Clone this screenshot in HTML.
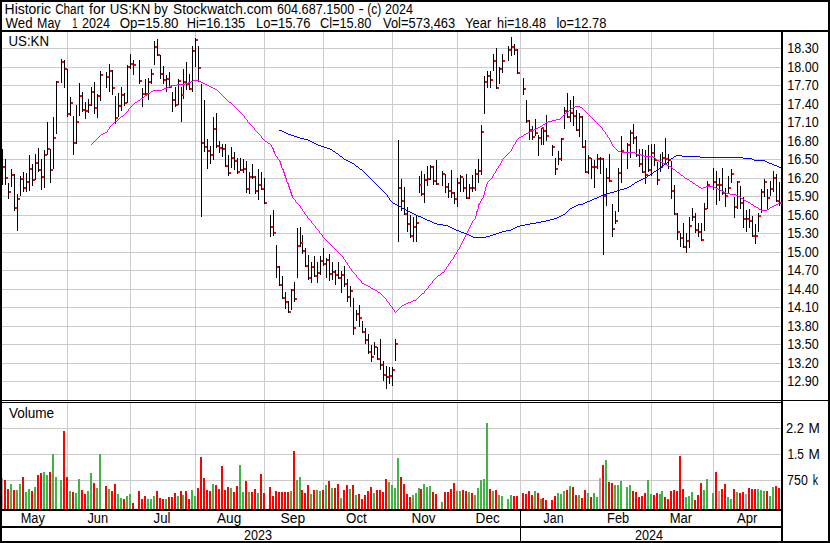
<!DOCTYPE html>
<html><head><meta charset="utf-8"><title>Historic Chart for US:KN</title>
<style>html,body{margin:0;padding:0;background:#fff}svg{display:block}text{font-family:"Liberation Sans",Arial,sans-serif;font-size:14px;fill:#000}</style>
</head><body>
<svg width="830" height="543" viewBox="0 0 830 543">
<rect x="0" y="0" width="830" height="543" fill="#fff"/>
<g fill="#cbcbcb" shape-rendering="crispEdges">
<rect x="2" y="48" width="779" height="1"/>
<rect x="2" y="67" width="779" height="1"/>
<rect x="2" y="85" width="779" height="1"/>
<rect x="2" y="104" width="779" height="1"/>
<rect x="2" y="122" width="779" height="1"/>
<rect x="2" y="141" width="779" height="1"/>
<rect x="2" y="159" width="779" height="1"/>
<rect x="2" y="178" width="779" height="1"/>
<rect x="2" y="196" width="779" height="1"/>
<rect x="2" y="215" width="779" height="1"/>
<rect x="2" y="233" width="779" height="1"/>
<rect x="2" y="252" width="779" height="1"/>
<rect x="2" y="270" width="779" height="1"/>
<rect x="2" y="289" width="779" height="1"/>
<rect x="2" y="307" width="779" height="1"/>
<rect x="2" y="326" width="779" height="1"/>
<rect x="2" y="344" width="779" height="1"/>
<rect x="2" y="363" width="779" height="1"/>
<rect x="2" y="381" width="779" height="1"/>
<rect x="2" y="428" width="779" height="1"/>
<rect x="2" y="454" width="779" height="1"/>
<rect x="2" y="480" width="779" height="1"/>
<rect x="67" y="32" width="1" height="368"/>
<rect x="67" y="403" width="1" height="106"/>
<rect x="130" y="32" width="1" height="368"/>
<rect x="130" y="403" width="1" height="106"/>
<rect x="195" y="32" width="1" height="368"/>
<rect x="195" y="403" width="1" height="106"/>
<rect x="264" y="32" width="1" height="368"/>
<rect x="264" y="403" width="1" height="106"/>
<rect x="323" y="32" width="1" height="368"/>
<rect x="323" y="403" width="1" height="106"/>
<rect x="392" y="32" width="1" height="368"/>
<rect x="392" y="403" width="1" height="106"/>
<rect x="457" y="32" width="1" height="368"/>
<rect x="457" y="403" width="1" height="106"/>
<rect x="520" y="32" width="1" height="368"/>
<rect x="520" y="403" width="1" height="106"/>
<rect x="588" y="32" width="1" height="368"/>
<rect x="588" y="403" width="1" height="106"/>
<rect x="651" y="32" width="1" height="368"/>
<rect x="651" y="403" width="1" height="106"/>
<rect x="713" y="32" width="1" height="368"/>
<rect x="713" y="403" width="1" height="106"/>
</g>
<g fill="#000" shape-rendering="crispEdges">
<rect x="0" y="0" width="830" height="2"/>
<rect x="0" y="541" width="830" height="2"/>
<rect x="0" y="0" width="2" height="543"/>
<rect x="828" y="0" width="2" height="543"/>
<rect x="0" y="30" width="830" height="2"/>
<rect x="781" y="30" width="2" height="512"/>
<rect x="2" y="400" width="826" height="1"/>
<rect x="2" y="402" width="779" height="1"/>
<rect x="2" y="509" width="779" height="2"/>
<rect x="2" y="526" width="779" height="2"/>
<rect x="520" y="511" width="1" height="30"/>
</g>
<g fill="#42b444" shape-rendering="crispEdges">
<rect x="10" y="484" width="2" height="25"/>
<rect x="16" y="490" width="2" height="19"/>
<rect x="19" y="484" width="2" height="25"/>
<rect x="25" y="492" width="2" height="17"/>
<rect x="28" y="489" width="2" height="20"/>
<rect x="34" y="487" width="2" height="22"/>
<rect x="43" y="472" width="2" height="37"/>
<rect x="46" y="475" width="2" height="34"/>
<rect x="52" y="454" width="2" height="55"/>
<rect x="55" y="477" width="2" height="32"/>
<rect x="60" y="480" width="2" height="29"/>
<rect x="69" y="491" width="2" height="18"/>
<rect x="75" y="493" width="2" height="16"/>
<rect x="78" y="479" width="2" height="30"/>
<rect x="87" y="491" width="2" height="18"/>
<rect x="90" y="473" width="2" height="36"/>
<rect x="96" y="488" width="2" height="21"/>
<rect x="99" y="454" width="2" height="55"/>
<rect x="108" y="489" width="2" height="20"/>
<rect x="117" y="494" width="2" height="15"/>
<rect x="120" y="498" width="2" height="11"/>
<rect x="126" y="496" width="2" height="13"/>
<rect x="129" y="494" width="2" height="15"/>
<rect x="147" y="499" width="2" height="10"/>
<rect x="150" y="499" width="2" height="10"/>
<rect x="153" y="496" width="2" height="13"/>
<rect x="165" y="499" width="2" height="10"/>
<rect x="177" y="496" width="2" height="13"/>
<rect x="182" y="495" width="2" height="14"/>
<rect x="191" y="490" width="2" height="19"/>
<rect x="194" y="496" width="2" height="13"/>
<rect x="212" y="484" width="2" height="25"/>
<rect x="230" y="488" width="2" height="21"/>
<rect x="239" y="465" width="2" height="44"/>
<rect x="242" y="492" width="2" height="17"/>
<rect x="248" y="492" width="2" height="17"/>
<rect x="257" y="493" width="2" height="16"/>
<rect x="290" y="491" width="2" height="18"/>
<rect x="296" y="480" width="2" height="29"/>
<rect x="299" y="477" width="2" height="32"/>
<rect x="310" y="494" width="2" height="15"/>
<rect x="316" y="490" width="2" height="19"/>
<rect x="319" y="491" width="2" height="18"/>
<rect x="325" y="485" width="2" height="24"/>
<rect x="331" y="488" width="2" height="21"/>
<rect x="340" y="498" width="2" height="11"/>
<rect x="349" y="489" width="2" height="20"/>
<rect x="355" y="495" width="2" height="14"/>
<rect x="373" y="493" width="2" height="16"/>
<rect x="388" y="482" width="2" height="27"/>
<rect x="391" y="485" width="2" height="24"/>
<rect x="394" y="488" width="2" height="21"/>
<rect x="397" y="458" width="2" height="51"/>
<rect x="412" y="495" width="2" height="14"/>
<rect x="415" y="493" width="2" height="16"/>
<rect x="418" y="488" width="2" height="21"/>
<rect x="423" y="484" width="2" height="25"/>
<rect x="426" y="487" width="2" height="22"/>
<rect x="429" y="486" width="2" height="23"/>
<rect x="441" y="502" width="2" height="7"/>
<rect x="456" y="491" width="2" height="18"/>
<rect x="459" y="491" width="2" height="18"/>
<rect x="468" y="492" width="2" height="17"/>
<rect x="474" y="495" width="2" height="14"/>
<rect x="477" y="488" width="2" height="21"/>
<rect x="480" y="480" width="2" height="29"/>
<rect x="483" y="479" width="2" height="30"/>
<rect x="486" y="423" width="2" height="86"/>
<rect x="492" y="491" width="2" height="18"/>
<rect x="498" y="495" width="2" height="14"/>
<rect x="501" y="496" width="2" height="13"/>
<rect x="507" y="499" width="2" height="10"/>
<rect x="510" y="495" width="2" height="14"/>
<rect x="534" y="491" width="2" height="18"/>
<rect x="540" y="499" width="2" height="10"/>
<rect x="557" y="493" width="2" height="16"/>
<rect x="560" y="494" width="2" height="15"/>
<rect x="563" y="491" width="2" height="18"/>
<rect x="569" y="486" width="2" height="23"/>
<rect x="578" y="495" width="2" height="14"/>
<rect x="587" y="493" width="2" height="16"/>
<rect x="593" y="493" width="2" height="16"/>
<rect x="596" y="497" width="2" height="12"/>
<rect x="605" y="460" width="2" height="49"/>
<rect x="614" y="485" width="2" height="24"/>
<rect x="617" y="485" width="2" height="24"/>
<rect x="620" y="481" width="2" height="28"/>
<rect x="626" y="487" width="2" height="22"/>
<rect x="629" y="485" width="2" height="24"/>
<rect x="647" y="480" width="2" height="29"/>
<rect x="650" y="494" width="2" height="15"/>
<rect x="659" y="494" width="2" height="15"/>
<rect x="661" y="491" width="2" height="18"/>
<rect x="685" y="497" width="2" height="12"/>
<rect x="688" y="496" width="2" height="13"/>
<rect x="691" y="492" width="2" height="17"/>
<rect x="703" y="490" width="2" height="19"/>
<rect x="706" y="479" width="2" height="30"/>
<rect x="712" y="493" width="2" height="16"/>
<rect x="727" y="497" width="2" height="12"/>
<rect x="730" y="499" width="2" height="10"/>
<rect x="736" y="492" width="2" height="17"/>
<rect x="757" y="489" width="2" height="20"/>
<rect x="760" y="490" width="2" height="19"/>
<rect x="763" y="491" width="2" height="18"/>
<rect x="769" y="496" width="2" height="13"/>
<rect x="772" y="487" width="2" height="22"/>
</g>
<g fill="#ff0000" shape-rendering="crispEdges">
<rect x="4" y="480" width="2" height="29"/>
<rect x="7" y="489" width="2" height="20"/>
<rect x="13" y="490" width="2" height="19"/>
<rect x="22" y="477" width="2" height="32"/>
<rect x="31" y="491" width="2" height="18"/>
<rect x="37" y="475" width="2" height="34"/>
<rect x="40" y="473" width="2" height="36"/>
<rect x="49" y="472" width="2" height="37"/>
<rect x="63" y="431" width="2" height="78"/>
<rect x="66" y="477" width="2" height="32"/>
<rect x="72" y="492" width="2" height="17"/>
<rect x="81" y="490" width="2" height="19"/>
<rect x="84" y="494" width="2" height="15"/>
<rect x="93" y="483" width="2" height="26"/>
<rect x="105" y="486" width="2" height="23"/>
<rect x="111" y="491" width="2" height="18"/>
<rect x="114" y="484" width="2" height="25"/>
<rect x="123" y="499" width="2" height="10"/>
<rect x="132" y="503" width="2" height="6"/>
<rect x="138" y="491" width="2" height="18"/>
<rect x="141" y="499" width="2" height="10"/>
<rect x="144" y="496" width="2" height="13"/>
<rect x="156" y="491" width="2" height="18"/>
<rect x="159" y="498" width="2" height="11"/>
<rect x="162" y="499" width="2" height="10"/>
<rect x="168" y="497" width="2" height="12"/>
<rect x="171" y="497" width="2" height="12"/>
<rect x="174" y="493" width="2" height="16"/>
<rect x="180" y="491" width="2" height="18"/>
<rect x="185" y="491" width="2" height="18"/>
<rect x="188" y="499" width="2" height="10"/>
<rect x="197" y="488" width="2" height="21"/>
<rect x="200" y="457" width="2" height="52"/>
<rect x="203" y="478" width="2" height="31"/>
<rect x="206" y="490" width="2" height="19"/>
<rect x="209" y="491" width="2" height="18"/>
<rect x="215" y="485" width="2" height="24"/>
<rect x="218" y="489" width="2" height="20"/>
<rect x="221" y="466" width="2" height="43"/>
<rect x="224" y="490" width="2" height="19"/>
<rect x="227" y="487" width="2" height="22"/>
<rect x="233" y="492" width="2" height="17"/>
<rect x="236" y="486" width="2" height="23"/>
<rect x="245" y="481" width="2" height="28"/>
<rect x="251" y="492" width="2" height="17"/>
<rect x="254" y="489" width="2" height="20"/>
<rect x="260" y="474" width="2" height="35"/>
<rect x="263" y="493" width="2" height="16"/>
<rect x="269" y="487" width="2" height="22"/>
<rect x="272" y="496" width="2" height="13"/>
<rect x="275" y="491" width="2" height="18"/>
<rect x="278" y="492" width="2" height="17"/>
<rect x="281" y="492" width="2" height="17"/>
<rect x="284" y="492" width="2" height="17"/>
<rect x="287" y="492" width="2" height="17"/>
<rect x="293" y="451" width="2" height="58"/>
<rect x="301" y="490" width="2" height="19"/>
<rect x="304" y="493" width="2" height="16"/>
<rect x="307" y="485" width="2" height="24"/>
<rect x="313" y="490" width="2" height="19"/>
<rect x="322" y="490" width="2" height="19"/>
<rect x="328" y="481" width="2" height="28"/>
<rect x="334" y="488" width="2" height="21"/>
<rect x="337" y="484" width="2" height="25"/>
<rect x="343" y="490" width="2" height="19"/>
<rect x="346" y="485" width="2" height="24"/>
<rect x="352" y="485" width="2" height="24"/>
<rect x="358" y="494" width="2" height="15"/>
<rect x="361" y="499" width="2" height="10"/>
<rect x="364" y="495" width="2" height="14"/>
<rect x="367" y="491" width="2" height="18"/>
<rect x="370" y="487" width="2" height="22"/>
<rect x="376" y="490" width="2" height="19"/>
<rect x="379" y="490" width="2" height="19"/>
<rect x="382" y="492" width="2" height="17"/>
<rect x="385" y="479" width="2" height="30"/>
<rect x="400" y="477" width="2" height="32"/>
<rect x="403" y="484" width="2" height="25"/>
<rect x="406" y="494" width="2" height="15"/>
<rect x="409" y="497" width="2" height="12"/>
<rect x="420" y="489" width="2" height="20"/>
<rect x="432" y="492" width="2" height="17"/>
<rect x="435" y="494" width="2" height="15"/>
<rect x="444" y="492" width="2" height="17"/>
<rect x="447" y="492" width="2" height="17"/>
<rect x="450" y="489" width="2" height="20"/>
<rect x="453" y="483" width="2" height="26"/>
<rect x="462" y="490" width="2" height="19"/>
<rect x="465" y="491" width="2" height="18"/>
<rect x="471" y="493" width="2" height="16"/>
<rect x="489" y="489" width="2" height="20"/>
<rect x="495" y="490" width="2" height="19"/>
<rect x="513" y="496" width="2" height="13"/>
<rect x="516" y="496" width="2" height="13"/>
<rect x="522" y="493" width="2" height="16"/>
<rect x="525" y="494" width="2" height="15"/>
<rect x="528" y="491" width="2" height="18"/>
<rect x="531" y="495" width="2" height="14"/>
<rect x="537" y="493" width="2" height="16"/>
<rect x="542" y="498" width="2" height="11"/>
<rect x="545" y="500" width="2" height="9"/>
<rect x="551" y="500" width="2" height="9"/>
<rect x="554" y="496" width="2" height="13"/>
<rect x="566" y="490" width="2" height="19"/>
<rect x="572" y="487" width="2" height="22"/>
<rect x="575" y="495" width="2" height="14"/>
<rect x="581" y="498" width="2" height="11"/>
<rect x="584" y="490" width="2" height="19"/>
<rect x="590" y="497" width="2" height="12"/>
<rect x="602" y="465" width="2" height="44"/>
<rect x="608" y="482" width="2" height="27"/>
<rect x="611" y="483" width="2" height="26"/>
<rect x="632" y="491" width="2" height="18"/>
<rect x="635" y="492" width="2" height="17"/>
<rect x="638" y="497" width="2" height="12"/>
<rect x="641" y="496" width="2" height="13"/>
<rect x="644" y="493" width="2" height="16"/>
<rect x="653" y="495" width="2" height="14"/>
<rect x="656" y="493" width="2" height="16"/>
<rect x="664" y="497" width="2" height="12"/>
<rect x="667" y="499" width="2" height="10"/>
<rect x="670" y="491" width="2" height="18"/>
<rect x="673" y="490" width="2" height="19"/>
<rect x="676" y="491" width="2" height="18"/>
<rect x="679" y="456" width="2" height="53"/>
<rect x="682" y="489" width="2" height="20"/>
<rect x="694" y="500" width="2" height="9"/>
<rect x="697" y="495" width="2" height="14"/>
<rect x="700" y="483" width="2" height="26"/>
<rect x="715" y="472" width="2" height="37"/>
<rect x="721" y="489" width="2" height="20"/>
<rect x="724" y="484" width="2" height="25"/>
<rect x="733" y="489" width="2" height="20"/>
<rect x="739" y="493" width="2" height="16"/>
<rect x="742" y="492" width="2" height="17"/>
<rect x="748" y="488" width="2" height="21"/>
<rect x="751" y="489" width="2" height="20"/>
<rect x="754" y="489" width="2" height="20"/>
<rect x="766" y="491" width="2" height="18"/>
<rect x="775" y="486" width="2" height="23"/>
<rect x="778" y="488" width="2" height="21"/>
</g>
<g fill="#aaaaaa" shape-rendering="crispEdges">
<rect x="2" y="478" width="1" height="31"/>
<rect x="599" y="478" width="2" height="31"/>
<rect x="718" y="491" width="2" height="18"/>
<rect x="745" y="494" width="2" height="15"/>
</g>
<g fill="#000" shape-rendering="crispEdges">
<rect x="2" y="149" width="1" height="36"/>
<rect x="5" y="159" width="1" height="26"/>
<rect x="8" y="183" width="1" height="16"/>
<rect x="11" y="169" width="1" height="18"/>
<rect x="14" y="174" width="1" height="37"/>
<rect x="17" y="194" width="1" height="37"/>
<rect x="20" y="176" width="1" height="20"/>
<rect x="23" y="172" width="1" height="20"/>
<rect x="26" y="173" width="1" height="19"/>
<rect x="29" y="155" width="1" height="36"/>
<rect x="32" y="164" width="1" height="22"/>
<rect x="35" y="154" width="1" height="26"/>
<rect x="38" y="148" width="1" height="24"/>
<rect x="41" y="159" width="1" height="31"/>
<rect x="44" y="150" width="1" height="38"/>
<rect x="47" y="122" width="1" height="33"/>
<rect x="50" y="149" width="1" height="34"/>
<rect x="53" y="117" width="1" height="52"/>
<rect x="56" y="81" width="1" height="53"/>
<rect x="61" y="59" width="1" height="24"/>
<rect x="64" y="60" width="1" height="28"/>
<rect x="67" y="69" width="1" height="48"/>
<rect x="70" y="97" width="1" height="19"/>
<rect x="73" y="116" width="1" height="39"/>
<rect x="76" y="105" width="1" height="39"/>
<rect x="79" y="83" width="1" height="33"/>
<rect x="82" y="92" width="1" height="20"/>
<rect x="85" y="102" width="1" height="17"/>
<rect x="88" y="99" width="1" height="14"/>
<rect x="91" y="87" width="1" height="19"/>
<rect x="94" y="82" width="1" height="32"/>
<rect x="97" y="94" width="1" height="24"/>
<rect x="100" y="71" width="1" height="30"/>
<rect x="106" y="72" width="1" height="16"/>
<rect x="109" y="64" width="1" height="28"/>
<rect x="112" y="70" width="1" height="25"/>
<rect x="115" y="96" width="1" height="28"/>
<rect x="118" y="93" width="1" height="24"/>
<rect x="121" y="87" width="1" height="24"/>
<rect x="124" y="93" width="1" height="13"/>
<rect x="127" y="65" width="1" height="38"/>
<rect x="130" y="54" width="1" height="15"/>
<rect x="133" y="60" width="1" height="15"/>
<rect x="139" y="60" width="1" height="24"/>
<rect x="142" y="88" width="1" height="19"/>
<rect x="145" y="79" width="1" height="17"/>
<rect x="148" y="78" width="1" height="22"/>
<rect x="151" y="69" width="1" height="15"/>
<rect x="154" y="41" width="1" height="24"/>
<rect x="157" y="39" width="1" height="17"/>
<rect x="160" y="55" width="1" height="24"/>
<rect x="163" y="66" width="1" height="18"/>
<rect x="166" y="75" width="1" height="17"/>
<rect x="169" y="72" width="1" height="16"/>
<rect x="172" y="92" width="1" height="20"/>
<rect x="175" y="87" width="1" height="20"/>
<rect x="178" y="79" width="1" height="26"/>
<rect x="181" y="87" width="1" height="35"/>
<rect x="183" y="69" width="1" height="30"/>
<rect x="186" y="62" width="1" height="28"/>
<rect x="189" y="74" width="1" height="16"/>
<rect x="192" y="46" width="1" height="46"/>
<rect x="195" y="38" width="1" height="29"/>
<rect x="198" y="46" width="1" height="36"/>
<rect x="201" y="84" width="1" height="133"/>
<rect x="204" y="100" width="1" height="52"/>
<rect x="207" y="139" width="1" height="30"/>
<rect x="210" y="146" width="1" height="18"/>
<rect x="213" y="117" width="1" height="43"/>
<rect x="216" y="113" width="1" height="35"/>
<rect x="219" y="141" width="1" height="12"/>
<rect x="222" y="144" width="1" height="13"/>
<rect x="225" y="144" width="1" height="23"/>
<rect x="228" y="155" width="1" height="21"/>
<rect x="231" y="147" width="1" height="21"/>
<rect x="234" y="152" width="1" height="18"/>
<rect x="237" y="158" width="1" height="16"/>
<rect x="240" y="158" width="1" height="13"/>
<rect x="243" y="159" width="1" height="14"/>
<rect x="246" y="161" width="1" height="32"/>
<rect x="249" y="172" width="1" height="22"/>
<rect x="252" y="164" width="1" height="15"/>
<rect x="255" y="176" width="1" height="18"/>
<rect x="258" y="169" width="1" height="31"/>
<rect x="261" y="172" width="1" height="18"/>
<rect x="264" y="178" width="1" height="26"/>
<rect x="270" y="215" width="1" height="22"/>
<rect x="273" y="210" width="1" height="26"/>
<rect x="276" y="245" width="1" height="33"/>
<rect x="279" y="266" width="1" height="20"/>
<rect x="282" y="276" width="1" height="23"/>
<rect x="285" y="292" width="1" height="17"/>
<rect x="288" y="301" width="1" height="12"/>
<rect x="291" y="289" width="1" height="21"/>
<rect x="294" y="282" width="1" height="20"/>
<rect x="297" y="228" width="1" height="50"/>
<rect x="300" y="227" width="1" height="20"/>
<rect x="302" y="235" width="1" height="19"/>
<rect x="305" y="248" width="1" height="19"/>
<rect x="308" y="255" width="1" height="25"/>
<rect x="311" y="262" width="1" height="21"/>
<rect x="314" y="256" width="1" height="21"/>
<rect x="317" y="262" width="1" height="21"/>
<rect x="320" y="256" width="1" height="19"/>
<rect x="323" y="248" width="1" height="18"/>
<rect x="326" y="258" width="1" height="20"/>
<rect x="329" y="254" width="1" height="27"/>
<rect x="332" y="262" width="1" height="18"/>
<rect x="335" y="270" width="1" height="15"/>
<rect x="338" y="262" width="1" height="17"/>
<rect x="341" y="271" width="1" height="22"/>
<rect x="344" y="266" width="1" height="21"/>
<rect x="347" y="279" width="1" height="23"/>
<rect x="350" y="286" width="1" height="21"/>
<rect x="353" y="298" width="1" height="37"/>
<rect x="356" y="310" width="1" height="11"/>
<rect x="359" y="305" width="1" height="22"/>
<rect x="362" y="321" width="1" height="12"/>
<rect x="365" y="328" width="1" height="16"/>
<rect x="368" y="334" width="1" height="20"/>
<rect x="371" y="345" width="1" height="17"/>
<rect x="374" y="342" width="1" height="13"/>
<rect x="377" y="347" width="1" height="13"/>
<rect x="380" y="339" width="1" height="31"/>
<rect x="383" y="361" width="1" height="20"/>
<rect x="386" y="366" width="1" height="23"/>
<rect x="389" y="367" width="1" height="17"/>
<rect x="392" y="367" width="1" height="19"/>
<rect x="395" y="339" width="1" height="22"/>
<rect x="398" y="140" width="1" height="102"/>
<rect x="401" y="179" width="1" height="32"/>
<rect x="404" y="187" width="1" height="28"/>
<rect x="407" y="207" width="1" height="25"/>
<rect x="410" y="215" width="1" height="23"/>
<rect x="413" y="217" width="1" height="25"/>
<rect x="416" y="216" width="1" height="26"/>
<rect x="419" y="176" width="1" height="17"/>
<rect x="421" y="171" width="1" height="25"/>
<rect x="424" y="174" width="1" height="29"/>
<rect x="427" y="166" width="1" height="20"/>
<rect x="430" y="165" width="1" height="15"/>
<rect x="433" y="166" width="1" height="19"/>
<rect x="436" y="160" width="1" height="25"/>
<rect x="442" y="171" width="1" height="15"/>
<rect x="445" y="174" width="1" height="19"/>
<rect x="448" y="183" width="1" height="15"/>
<rect x="451" y="170" width="1" height="28"/>
<rect x="454" y="192" width="1" height="12"/>
<rect x="457" y="178" width="1" height="29"/>
<rect x="460" y="175" width="1" height="17"/>
<rect x="463" y="178" width="1" height="14"/>
<rect x="466" y="174" width="1" height="25"/>
<rect x="469" y="184" width="1" height="15"/>
<rect x="472" y="175" width="1" height="17"/>
<rect x="475" y="169" width="1" height="22"/>
<rect x="478" y="159" width="1" height="24"/>
<rect x="481" y="125" width="1" height="50"/>
<rect x="484" y="76" width="1" height="38"/>
<rect x="487" y="71" width="1" height="17"/>
<rect x="490" y="71" width="1" height="17"/>
<rect x="493" y="54" width="1" height="17"/>
<rect x="496" y="48" width="1" height="41"/>
<rect x="499" y="67" width="1" height="17"/>
<rect x="502" y="54" width="1" height="19"/>
<rect x="508" y="46" width="1" height="15"/>
<rect x="511" y="37" width="1" height="19"/>
<rect x="514" y="44" width="1" height="11"/>
<rect x="517" y="49" width="1" height="25"/>
<rect x="523" y="78" width="1" height="17"/>
<rect x="526" y="100" width="1" height="23"/>
<rect x="529" y="120" width="1" height="20"/>
<rect x="532" y="126" width="1" height="14"/>
<rect x="535" y="119" width="1" height="17"/>
<rect x="538" y="135" width="1" height="21"/>
<rect x="541" y="128" width="1" height="17"/>
<rect x="543" y="127" width="1" height="18"/>
<rect x="546" y="115" width="1" height="26"/>
<rect x="552" y="145" width="1" height="11"/>
<rect x="555" y="158" width="1" height="17"/>
<rect x="558" y="151" width="1" height="14"/>
<rect x="561" y="138" width="1" height="23"/>
<rect x="564" y="107" width="1" height="22"/>
<rect x="567" y="93" width="1" height="25"/>
<rect x="570" y="100" width="1" height="22"/>
<rect x="573" y="96" width="1" height="30"/>
<rect x="576" y="110" width="1" height="21"/>
<rect x="579" y="113" width="1" height="24"/>
<rect x="582" y="116" width="1" height="32"/>
<rect x="585" y="140" width="1" height="33"/>
<rect x="588" y="155" width="1" height="19"/>
<rect x="591" y="158" width="1" height="21"/>
<rect x="594" y="160" width="1" height="28"/>
<rect x="597" y="154" width="1" height="15"/>
<rect x="600" y="157" width="1" height="17"/>
<rect x="603" y="158" width="1" height="97"/>
<rect x="606" y="168" width="1" height="38"/>
<rect x="609" y="154" width="1" height="28"/>
<rect x="612" y="204" width="1" height="33"/>
<rect x="615" y="211" width="1" height="13"/>
<rect x="618" y="168" width="1" height="44"/>
<rect x="621" y="136" width="1" height="47"/>
<rect x="627" y="143" width="1" height="26"/>
<rect x="630" y="130" width="1" height="28"/>
<rect x="633" y="124" width="1" height="20"/>
<rect x="636" y="136" width="1" height="21"/>
<rect x="639" y="149" width="1" height="18"/>
<rect x="642" y="149" width="1" height="24"/>
<rect x="645" y="150" width="1" height="34"/>
<rect x="648" y="145" width="1" height="27"/>
<rect x="651" y="144" width="1" height="32"/>
<rect x="654" y="144" width="1" height="22"/>
<rect x="657" y="162" width="1" height="23"/>
<rect x="660" y="154" width="1" height="18"/>
<rect x="662" y="152" width="1" height="15"/>
<rect x="665" y="138" width="1" height="25"/>
<rect x="668" y="154" width="1" height="15"/>
<rect x="671" y="161" width="1" height="38"/>
<rect x="674" y="185" width="1" height="30"/>
<rect x="677" y="213" width="1" height="27"/>
<rect x="680" y="233" width="1" height="14"/>
<rect x="683" y="223" width="1" height="25"/>
<rect x="686" y="233" width="1" height="20"/>
<rect x="689" y="217" width="1" height="31"/>
<rect x="692" y="208" width="1" height="13"/>
<rect x="695" y="213" width="1" height="20"/>
<rect x="698" y="223" width="1" height="14"/>
<rect x="701" y="223" width="1" height="18"/>
<rect x="704" y="203" width="1" height="28"/>
<rect x="707" y="181" width="1" height="28"/>
<rect x="713" y="168" width="1" height="22"/>
<rect x="716" y="171" width="1" height="34"/>
<rect x="719" y="178" width="1" height="23"/>
<rect x="722" y="168" width="1" height="27"/>
<rect x="725" y="188" width="1" height="19"/>
<rect x="728" y="176" width="1" height="18"/>
<rect x="731" y="169" width="1" height="14"/>
<rect x="734" y="197" width="1" height="21"/>
<rect x="737" y="181" width="1" height="28"/>
<rect x="740" y="186" width="1" height="23"/>
<rect x="743" y="197" width="1" height="31"/>
<rect x="746" y="210" width="1" height="22"/>
<rect x="749" y="209" width="1" height="19"/>
<rect x="752" y="216" width="1" height="21"/>
<rect x="755" y="224" width="1" height="20"/>
<rect x="758" y="213" width="1" height="19"/>
<rect x="761" y="189" width="1" height="24"/>
<rect x="764" y="179" width="1" height="18"/>
<rect x="767" y="189" width="1" height="21"/>
<rect x="770" y="181" width="1" height="15"/>
<rect x="773" y="171" width="1" height="21"/>
<rect x="776" y="174" width="1" height="28"/>
<rect x="779" y="182" width="1" height="24"/>
</g>
<g fill="#ff0000" shape-rendering="crispEdges">
<rect x="3" y="166" width="2" height="2"/>
<rect x="6" y="177" width="2" height="2"/>
<rect x="9" y="191" width="2" height="2"/>
<rect x="12" y="174" width="2" height="2"/>
<rect x="15" y="207" width="2" height="2"/>
<rect x="18" y="198" width="2" height="2"/>
<rect x="21" y="178" width="2" height="2"/>
<rect x="24" y="187" width="2" height="2"/>
<rect x="27" y="181" width="2" height="2"/>
<rect x="30" y="168" width="2" height="2"/>
<rect x="33" y="179" width="2" height="2"/>
<rect x="36" y="162" width="2" height="2"/>
<rect x="39" y="169" width="2" height="2"/>
<rect x="42" y="176" width="2" height="2"/>
<rect x="45" y="154" width="2" height="2"/>
<rect x="48" y="148" width="2" height="2"/>
<rect x="51" y="169" width="2" height="2"/>
<rect x="54" y="137" width="2" height="2"/>
<rect x="57" y="81" width="2" height="2"/>
<rect x="62" y="61" width="2" height="2"/>
<rect x="65" y="68" width="2" height="2"/>
<rect x="68" y="113" width="2" height="2"/>
<rect x="71" y="102" width="2" height="2"/>
<rect x="74" y="142" width="2" height="2"/>
<rect x="77" y="121" width="2" height="2"/>
<rect x="80" y="95" width="2" height="2"/>
<rect x="83" y="109" width="2" height="2"/>
<rect x="86" y="110" width="2" height="2"/>
<rect x="89" y="104" width="2" height="2"/>
<rect x="92" y="91" width="2" height="2"/>
<rect x="95" y="107" width="2" height="2"/>
<rect x="98" y="95" width="2" height="2"/>
<rect x="101" y="74" width="2" height="2"/>
<rect x="107" y="76" width="2" height="2"/>
<rect x="110" y="70" width="2" height="2"/>
<rect x="113" y="87" width="2" height="2"/>
<rect x="116" y="117" width="2" height="2"/>
<rect x="119" y="105" width="2" height="2"/>
<rect x="122" y="94" width="2" height="2"/>
<rect x="125" y="102" width="2" height="2"/>
<rect x="128" y="66" width="2" height="2"/>
<rect x="131" y="63" width="2" height="2"/>
<rect x="134" y="64" width="2" height="2"/>
<rect x="140" y="80" width="2" height="2"/>
<rect x="143" y="93" width="2" height="2"/>
<rect x="146" y="93" width="2" height="2"/>
<rect x="149" y="81" width="2" height="2"/>
<rect x="152" y="73" width="2" height="2"/>
<rect x="155" y="46" width="2" height="2"/>
<rect x="158" y="54" width="2" height="2"/>
<rect x="161" y="73" width="2" height="2"/>
<rect x="164" y="79" width="2" height="2"/>
<rect x="167" y="78" width="2" height="2"/>
<rect x="170" y="86" width="2" height="2"/>
<rect x="173" y="99" width="2" height="2"/>
<rect x="176" y="104" width="2" height="2"/>
<rect x="179" y="80" width="2" height="2"/>
<rect x="182" y="94" width="2" height="2"/>
<rect x="184" y="81" width="2" height="2"/>
<rect x="187" y="83" width="2" height="2"/>
<rect x="190" y="88" width="2" height="2"/>
<rect x="193" y="50" width="2" height="2"/>
<rect x="196" y="39" width="2" height="2"/>
<rect x="199" y="67" width="2" height="2"/>
<rect x="202" y="142" width="2" height="2"/>
<rect x="205" y="146" width="2" height="2"/>
<rect x="208" y="150" width="2" height="2"/>
<rect x="211" y="154" width="2" height="2"/>
<rect x="214" y="128" width="2" height="2"/>
<rect x="217" y="145" width="2" height="2"/>
<rect x="220" y="147" width="2" height="2"/>
<rect x="223" y="148" width="2" height="2"/>
<rect x="226" y="165" width="2" height="2"/>
<rect x="229" y="172" width="2" height="2"/>
<rect x="232" y="157" width="2" height="2"/>
<rect x="235" y="160" width="2" height="2"/>
<rect x="238" y="171" width="2" height="2"/>
<rect x="241" y="169" width="2" height="2"/>
<rect x="244" y="168" width="2" height="2"/>
<rect x="247" y="188" width="2" height="2"/>
<rect x="250" y="176" width="2" height="2"/>
<rect x="253" y="176" width="2" height="2"/>
<rect x="256" y="190" width="2" height="2"/>
<rect x="259" y="184" width="2" height="2"/>
<rect x="262" y="188" width="2" height="2"/>
<rect x="265" y="202" width="2" height="2"/>
<rect x="271" y="226" width="2" height="2"/>
<rect x="274" y="232" width="2" height="2"/>
<rect x="277" y="266" width="2" height="2"/>
<rect x="280" y="284" width="2" height="2"/>
<rect x="283" y="297" width="2" height="2"/>
<rect x="286" y="301" width="2" height="2"/>
<rect x="289" y="311" width="2" height="2"/>
<rect x="292" y="289" width="2" height="2"/>
<rect x="295" y="298" width="2" height="2"/>
<rect x="298" y="245" width="2" height="2"/>
<rect x="301" y="242" width="2" height="2"/>
<rect x="303" y="250" width="2" height="2"/>
<rect x="306" y="265" width="2" height="2"/>
<rect x="309" y="277" width="2" height="2"/>
<rect x="312" y="266" width="2" height="2"/>
<rect x="315" y="275" width="2" height="2"/>
<rect x="318" y="272" width="2" height="2"/>
<rect x="321" y="260" width="2" height="2"/>
<rect x="324" y="263" width="2" height="2"/>
<rect x="327" y="259" width="2" height="2"/>
<rect x="330" y="273" width="2" height="2"/>
<rect x="333" y="271" width="2" height="2"/>
<rect x="336" y="274" width="2" height="2"/>
<rect x="339" y="277" width="2" height="2"/>
<rect x="342" y="274" width="2" height="2"/>
<rect x="345" y="283" width="2" height="2"/>
<rect x="348" y="296" width="2" height="2"/>
<rect x="351" y="290" width="2" height="2"/>
<rect x="354" y="327" width="2" height="2"/>
<rect x="357" y="313" width="2" height="2"/>
<rect x="360" y="317" width="2" height="2"/>
<rect x="363" y="331" width="2" height="2"/>
<rect x="366" y="339" width="2" height="2"/>
<rect x="369" y="351" width="2" height="2"/>
<rect x="372" y="356" width="2" height="2"/>
<rect x="375" y="346" width="2" height="2"/>
<rect x="378" y="358" width="2" height="2"/>
<rect x="381" y="364" width="2" height="2"/>
<rect x="384" y="374" width="2" height="2"/>
<rect x="387" y="376" width="2" height="2"/>
<rect x="390" y="375" width="2" height="2"/>
<rect x="393" y="369" width="2" height="2"/>
<rect x="396" y="343" width="2" height="2"/>
<rect x="399" y="187" width="2" height="2"/>
<rect x="402" y="200" width="2" height="2"/>
<rect x="405" y="213" width="2" height="2"/>
<rect x="408" y="223" width="2" height="2"/>
<rect x="411" y="235" width="2" height="2"/>
<rect x="414" y="226" width="2" height="2"/>
<rect x="417" y="222" width="2" height="2"/>
<rect x="420" y="184" width="2" height="2"/>
<rect x="422" y="193" width="2" height="2"/>
<rect x="425" y="179" width="2" height="2"/>
<rect x="428" y="178" width="2" height="2"/>
<rect x="431" y="166" width="2" height="2"/>
<rect x="434" y="180" width="2" height="2"/>
<rect x="437" y="183" width="2" height="2"/>
<rect x="443" y="173" width="2" height="2"/>
<rect x="446" y="186" width="2" height="2"/>
<rect x="449" y="190" width="2" height="2"/>
<rect x="452" y="192" width="2" height="2"/>
<rect x="455" y="198" width="2" height="2"/>
<rect x="458" y="182" width="2" height="2"/>
<rect x="461" y="176" width="2" height="2"/>
<rect x="464" y="187" width="2" height="2"/>
<rect x="467" y="197" width="2" height="2"/>
<rect x="470" y="187" width="2" height="2"/>
<rect x="473" y="187" width="2" height="2"/>
<rect x="476" y="173" width="2" height="2"/>
<rect x="479" y="170" width="2" height="2"/>
<rect x="482" y="131" width="2" height="2"/>
<rect x="485" y="81" width="2" height="2"/>
<rect x="488" y="75" width="2" height="2"/>
<rect x="491" y="79" width="2" height="2"/>
<rect x="494" y="60" width="2" height="2"/>
<rect x="497" y="87" width="2" height="2"/>
<rect x="500" y="68" width="2" height="2"/>
<rect x="503" y="60" width="2" height="2"/>
<rect x="509" y="49" width="2" height="2"/>
<rect x="512" y="46" width="2" height="2"/>
<rect x="515" y="49" width="2" height="2"/>
<rect x="518" y="72" width="2" height="2"/>
<rect x="524" y="88" width="2" height="2"/>
<rect x="527" y="120" width="2" height="2"/>
<rect x="530" y="129" width="2" height="2"/>
<rect x="533" y="136" width="2" height="2"/>
<rect x="536" y="132" width="2" height="2"/>
<rect x="539" y="137" width="2" height="2"/>
<rect x="542" y="127" width="2" height="2"/>
<rect x="544" y="130" width="2" height="2"/>
<rect x="547" y="135" width="2" height="2"/>
<rect x="553" y="146" width="2" height="2"/>
<rect x="556" y="168" width="2" height="2"/>
<rect x="559" y="158" width="2" height="2"/>
<rect x="562" y="138" width="2" height="2"/>
<rect x="565" y="110" width="2" height="2"/>
<rect x="568" y="116" width="2" height="2"/>
<rect x="571" y="112" width="2" height="2"/>
<rect x="574" y="115" width="2" height="2"/>
<rect x="577" y="129" width="2" height="2"/>
<rect x="580" y="116" width="2" height="2"/>
<rect x="583" y="146" width="2" height="2"/>
<rect x="586" y="171" width="2" height="2"/>
<rect x="589" y="157" width="2" height="2"/>
<rect x="592" y="166" width="2" height="2"/>
<rect x="595" y="166" width="2" height="2"/>
<rect x="598" y="158" width="2" height="2"/>
<rect x="601" y="158" width="2" height="2"/>
<rect x="604" y="195" width="2" height="2"/>
<rect x="607" y="177" width="2" height="2"/>
<rect x="610" y="180" width="2" height="2"/>
<rect x="613" y="228" width="2" height="2"/>
<rect x="616" y="220" width="2" height="2"/>
<rect x="619" y="172" width="2" height="2"/>
<rect x="622" y="150" width="2" height="2"/>
<rect x="628" y="144" width="2" height="2"/>
<rect x="631" y="132" width="2" height="2"/>
<rect x="634" y="137" width="2" height="2"/>
<rect x="637" y="154" width="2" height="2"/>
<rect x="640" y="163" width="2" height="2"/>
<rect x="643" y="171" width="2" height="2"/>
<rect x="646" y="174" width="2" height="2"/>
<rect x="649" y="169" width="2" height="2"/>
<rect x="652" y="152" width="2" height="2"/>
<rect x="655" y="159" width="2" height="2"/>
<rect x="658" y="179" width="2" height="2"/>
<rect x="661" y="166" width="2" height="2"/>
<rect x="663" y="157" width="2" height="2"/>
<rect x="666" y="158" width="2" height="2"/>
<rect x="669" y="159" width="2" height="2"/>
<rect x="672" y="190" width="2" height="2"/>
<rect x="675" y="213" width="2" height="2"/>
<rect x="678" y="231" width="2" height="2"/>
<rect x="681" y="237" width="2" height="2"/>
<rect x="684" y="246" width="2" height="2"/>
<rect x="687" y="240" width="2" height="2"/>
<rect x="690" y="225" width="2" height="2"/>
<rect x="693" y="216" width="2" height="2"/>
<rect x="696" y="229" width="2" height="2"/>
<rect x="699" y="231" width="2" height="2"/>
<rect x="702" y="239" width="2" height="2"/>
<rect x="705" y="208" width="2" height="2"/>
<rect x="708" y="184" width="2" height="2"/>
<rect x="714" y="181" width="2" height="2"/>
<rect x="717" y="184" width="2" height="2"/>
<rect x="720" y="184" width="2" height="2"/>
<rect x="723" y="192" width="2" height="2"/>
<rect x="726" y="195" width="2" height="2"/>
<rect x="729" y="187" width="2" height="2"/>
<rect x="732" y="173" width="2" height="2"/>
<rect x="735" y="206" width="2" height="2"/>
<rect x="738" y="181" width="2" height="2"/>
<rect x="741" y="202" width="2" height="2"/>
<rect x="744" y="218" width="2" height="2"/>
<rect x="747" y="218" width="2" height="2"/>
<rect x="750" y="220" width="2" height="2"/>
<rect x="753" y="235" width="2" height="2"/>
<rect x="756" y="235" width="2" height="2"/>
<rect x="759" y="215" width="2" height="2"/>
<rect x="762" y="191" width="2" height="2"/>
<rect x="765" y="181" width="2" height="2"/>
<rect x="768" y="197" width="2" height="2"/>
<rect x="771" y="188" width="2" height="2"/>
<rect x="774" y="177" width="2" height="2"/>
<rect x="777" y="200" width="2" height="2"/>
<rect x="780" y="202" width="2" height="2"/>
</g>
<g fill="#ff00ff" shape-rendering="crispEdges">
<rect x="91" y="144" width="1" height="1"/>
<rect x="92" y="143" width="1" height="1"/>
<rect x="93" y="142" width="1" height="1"/>
<rect x="94" y="141" width="1" height="1"/>
<rect x="95" y="140" width="1" height="1"/>
<rect x="96" y="139" width="1" height="1"/>
<rect x="97" y="138" width="1" height="1"/>
<rect x="98" y="137" width="1" height="1"/>
<rect x="99" y="136" width="1" height="1"/>
<rect x="100" y="135" width="1" height="1"/>
<rect x="101" y="134" width="2" height="1"/>
<rect x="103" y="133" width="2" height="1"/>
<rect x="105" y="132" width="2" height="1"/>
<rect x="107" y="130" width="1" height="2"/>
<rect x="108" y="129" width="1" height="1"/>
<rect x="109" y="127" width="1" height="2"/>
<rect x="110" y="126" width="1" height="1"/>
<rect x="111" y="125" width="1" height="1"/>
<rect x="112" y="124" width="1" height="1"/>
<rect x="113" y="123" width="1" height="1"/>
<rect x="114" y="122" width="1" height="1"/>
<rect x="115" y="121" width="2" height="1"/>
<rect x="117" y="120" width="1" height="1"/>
<rect x="118" y="119" width="1" height="1"/>
<rect x="119" y="118" width="1" height="1"/>
<rect x="120" y="117" width="1" height="1"/>
<rect x="121" y="116" width="2" height="1"/>
<rect x="123" y="115" width="1" height="1"/>
<rect x="124" y="114" width="1" height="1"/>
<rect x="125" y="113" width="1" height="1"/>
<rect x="126" y="112" width="1" height="1"/>
<rect x="127" y="111" width="1" height="1"/>
<rect x="128" y="109" width="1" height="2"/>
<rect x="129" y="108" width="1" height="1"/>
<rect x="130" y="107" width="1" height="1"/>
<rect x="131" y="106" width="1" height="1"/>
<rect x="132" y="105" width="1" height="1"/>
<rect x="133" y="104" width="1" height="1"/>
<rect x="134" y="103" width="1" height="1"/>
<rect x="135" y="102" width="2" height="1"/>
<rect x="137" y="101" width="1" height="1"/>
<rect x="138" y="100" width="2" height="1"/>
<rect x="140" y="99" width="1" height="1"/>
<rect x="141" y="98" width="2" height="1"/>
<rect x="143" y="97" width="1" height="1"/>
<rect x="144" y="96" width="1" height="1"/>
<rect x="145" y="95" width="2" height="1"/>
<rect x="147" y="94" width="1" height="1"/>
<rect x="148" y="93" width="2" height="1"/>
<rect x="150" y="92" width="1" height="1"/>
<rect x="151" y="91" width="2" height="1"/>
<rect x="153" y="90" width="9" height="1"/>
<rect x="162" y="89" width="2" height="1"/>
<rect x="164" y="88" width="3" height="1"/>
<rect x="167" y="87" width="2" height="1"/>
<rect x="169" y="86" width="2" height="1"/>
<rect x="171" y="85" width="6" height="1"/>
<rect x="177" y="84" width="8" height="1"/>
<rect x="185" y="83" width="3" height="1"/>
<rect x="188" y="82" width="3" height="1"/>
<rect x="191" y="81" width="2" height="1"/>
<rect x="193" y="80" width="6" height="1"/>
<rect x="199" y="81" width="2" height="1"/>
<rect x="201" y="82" width="2" height="1"/>
<rect x="203" y="83" width="2" height="1"/>
<rect x="205" y="84" width="2" height="1"/>
<rect x="207" y="85" width="2" height="1"/>
<rect x="209" y="86" width="2" height="1"/>
<rect x="211" y="87" width="2" height="1"/>
<rect x="213" y="88" width="2" height="1"/>
<rect x="215" y="89" width="2" height="1"/>
<rect x="217" y="90" width="1" height="1"/>
<rect x="218" y="91" width="1" height="1"/>
<rect x="219" y="92" width="1" height="1"/>
<rect x="220" y="93" width="1" height="1"/>
<rect x="221" y="94" width="1" height="1"/>
<rect x="222" y="95" width="1" height="1"/>
<rect x="223" y="96" width="1" height="1"/>
<rect x="224" y="97" width="1" height="1"/>
<rect x="225" y="98" width="1" height="1"/>
<rect x="226" y="99" width="1" height="1"/>
<rect x="227" y="100" width="1" height="1"/>
<rect x="228" y="101" width="1" height="1"/>
<rect x="229" y="102" width="2" height="1"/>
<rect x="231" y="103" width="1" height="1"/>
<rect x="232" y="104" width="1" height="1"/>
<rect x="233" y="105" width="1" height="1"/>
<rect x="234" y="106" width="1" height="1"/>
<rect x="235" y="107" width="1" height="1"/>
<rect x="236" y="108" width="1" height="1"/>
<rect x="237" y="109" width="1" height="1"/>
<rect x="238" y="110" width="1" height="1"/>
<rect x="239" y="111" width="1" height="1"/>
<rect x="240" y="112" width="1" height="1"/>
<rect x="241" y="113" width="1" height="1"/>
<rect x="242" y="114" width="1" height="1"/>
<rect x="243" y="115" width="1" height="1"/>
<rect x="244" y="116" width="1" height="2"/>
<rect x="245" y="118" width="1" height="1"/>
<rect x="246" y="119" width="1" height="1"/>
<rect x="247" y="120" width="1" height="2"/>
<rect x="248" y="122" width="1" height="1"/>
<rect x="249" y="123" width="1" height="1"/>
<rect x="250" y="124" width="1" height="1"/>
<rect x="251" y="125" width="1" height="1"/>
<rect x="252" y="126" width="1" height="1"/>
<rect x="253" y="127" width="1" height="1"/>
<rect x="254" y="128" width="1" height="2"/>
<rect x="255" y="130" width="1" height="1"/>
<rect x="256" y="131" width="1" height="1"/>
<rect x="257" y="132" width="1" height="1"/>
<rect x="258" y="133" width="1" height="1"/>
<rect x="259" y="134" width="1" height="1"/>
<rect x="260" y="135" width="1" height="1"/>
<rect x="261" y="136" width="1" height="2"/>
<rect x="262" y="138" width="1" height="1"/>
<rect x="263" y="139" width="1" height="1"/>
<rect x="264" y="140" width="1" height="1"/>
<rect x="265" y="141" width="2" height="1"/>
<rect x="267" y="142" width="1" height="1"/>
<rect x="268" y="143" width="2" height="1"/>
<rect x="270" y="144" width="1" height="1"/>
<rect x="271" y="145" width="1" height="2"/>
<rect x="272" y="147" width="1" height="2"/>
<rect x="273" y="148" width="1" height="4"/>
<rect x="274" y="151" width="1" height="3"/>
<rect x="275" y="154" width="1" height="2"/>
<rect x="276" y="156" width="1" height="1"/>
<rect x="277" y="157" width="1" height="2"/>
<rect x="278" y="159" width="1" height="1"/>
<rect x="279" y="160" width="1" height="2"/>
<rect x="280" y="161" width="1" height="4"/>
<rect x="281" y="164" width="1" height="4"/>
<rect x="282" y="168" width="1" height="2"/>
<rect x="283" y="169" width="1" height="4"/>
<rect x="284" y="172" width="1" height="4"/>
<rect x="285" y="175" width="1" height="4"/>
<rect x="286" y="178" width="1" height="4"/>
<rect x="287" y="182" width="1" height="2"/>
<rect x="288" y="183" width="1" height="4"/>
<rect x="289" y="186" width="1" height="4"/>
<rect x="290" y="189" width="1" height="4"/>
<rect x="291" y="192" width="1" height="4"/>
<rect x="292" y="195" width="1" height="3"/>
<rect x="293" y="198" width="1" height="1"/>
<rect x="294" y="199" width="1" height="1"/>
<rect x="295" y="200" width="1" height="2"/>
<rect x="296" y="202" width="1" height="1"/>
<rect x="297" y="203" width="1" height="1"/>
<rect x="298" y="204" width="1" height="1"/>
<rect x="299" y="205" width="1" height="1"/>
<rect x="300" y="206" width="1" height="2"/>
<rect x="301" y="208" width="1" height="1"/>
<rect x="302" y="209" width="1" height="2"/>
<rect x="303" y="211" width="1" height="1"/>
<rect x="304" y="212" width="1" height="2"/>
<rect x="305" y="214" width="1" height="1"/>
<rect x="306" y="215" width="1" height="1"/>
<rect x="307" y="216" width="1" height="2"/>
<rect x="308" y="218" width="1" height="1"/>
<rect x="309" y="219" width="1" height="1"/>
<rect x="310" y="220" width="1" height="1"/>
<rect x="311" y="221" width="1" height="2"/>
<rect x="312" y="223" width="1" height="1"/>
<rect x="313" y="224" width="1" height="1"/>
<rect x="314" y="225" width="1" height="1"/>
<rect x="315" y="226" width="1" height="2"/>
<rect x="316" y="228" width="1" height="1"/>
<rect x="317" y="229" width="1" height="1"/>
<rect x="318" y="230" width="1" height="1"/>
<rect x="319" y="231" width="1" height="2"/>
<rect x="320" y="233" width="1" height="1"/>
<rect x="321" y="234" width="1" height="1"/>
<rect x="322" y="235" width="1" height="2"/>
<rect x="323" y="237" width="1" height="1"/>
<rect x="324" y="238" width="1" height="1"/>
<rect x="325" y="239" width="1" height="1"/>
<rect x="326" y="240" width="1" height="1"/>
<rect x="327" y="241" width="1" height="1"/>
<rect x="328" y="242" width="1" height="1"/>
<rect x="329" y="243" width="1" height="1"/>
<rect x="330" y="244" width="1" height="1"/>
<rect x="331" y="245" width="1" height="1"/>
<rect x="332" y="246" width="1" height="1"/>
<rect x="333" y="247" width="1" height="1"/>
<rect x="334" y="248" width="1" height="1"/>
<rect x="335" y="249" width="1" height="1"/>
<rect x="336" y="250" width="1" height="1"/>
<rect x="337" y="251" width="1" height="1"/>
<rect x="338" y="252" width="1" height="1"/>
<rect x="339" y="253" width="1" height="1"/>
<rect x="340" y="254" width="1" height="1"/>
<rect x="341" y="255" width="1" height="1"/>
<rect x="342" y="256" width="1" height="1"/>
<rect x="343" y="257" width="1" height="2"/>
<rect x="344" y="259" width="1" height="1"/>
<rect x="345" y="260" width="1" height="2"/>
<rect x="346" y="262" width="1" height="1"/>
<rect x="347" y="263" width="1" height="2"/>
<rect x="348" y="265" width="1" height="1"/>
<rect x="349" y="266" width="1" height="2"/>
<rect x="350" y="268" width="1" height="1"/>
<rect x="351" y="269" width="1" height="2"/>
<rect x="352" y="271" width="1" height="1"/>
<rect x="353" y="272" width="1" height="1"/>
<rect x="354" y="273" width="1" height="1"/>
<rect x="355" y="274" width="1" height="1"/>
<rect x="356" y="275" width="1" height="2"/>
<rect x="357" y="277" width="1" height="1"/>
<rect x="358" y="278" width="1" height="1"/>
<rect x="359" y="279" width="1" height="1"/>
<rect x="360" y="280" width="1" height="1"/>
<rect x="361" y="281" width="1" height="2"/>
<rect x="362" y="283" width="2" height="1"/>
<rect x="364" y="284" width="2" height="1"/>
<rect x="366" y="285" width="2" height="1"/>
<rect x="368" y="286" width="2" height="1"/>
<rect x="370" y="287" width="1" height="1"/>
<rect x="371" y="288" width="2" height="1"/>
<rect x="373" y="289" width="2" height="1"/>
<rect x="375" y="290" width="2" height="1"/>
<rect x="377" y="291" width="1" height="1"/>
<rect x="378" y="292" width="2" height="1"/>
<rect x="380" y="293" width="1" height="1"/>
<rect x="381" y="294" width="1" height="1"/>
<rect x="382" y="295" width="1" height="1"/>
<rect x="383" y="296" width="1" height="1"/>
<rect x="384" y="297" width="1" height="1"/>
<rect x="385" y="298" width="1" height="1"/>
<rect x="386" y="299" width="1" height="2"/>
<rect x="387" y="301" width="1" height="1"/>
<rect x="388" y="302" width="1" height="1"/>
<rect x="389" y="303" width="1" height="2"/>
<rect x="390" y="305" width="1" height="1"/>
<rect x="391" y="306" width="1" height="1"/>
<rect x="392" y="307" width="1" height="2"/>
<rect x="393" y="309" width="1" height="1"/>
<rect x="394" y="310" width="1" height="2"/>
<rect x="395" y="312" width="1" height="1"/>
<rect x="396" y="311" width="1" height="1"/>
<rect x="397" y="310" width="1" height="1"/>
<rect x="398" y="309" width="1" height="1"/>
<rect x="399" y="308" width="1" height="1"/>
<rect x="400" y="307" width="1" height="1"/>
<rect x="401" y="306" width="1" height="1"/>
<rect x="402" y="305" width="2" height="1"/>
<rect x="404" y="304" width="2" height="1"/>
<rect x="406" y="303" width="2" height="1"/>
<rect x="408" y="302" width="3" height="1"/>
<rect x="411" y="301" width="2" height="1"/>
<rect x="413" y="300" width="3" height="1"/>
<rect x="416" y="299" width="1" height="1"/>
<rect x="417" y="298" width="1" height="1"/>
<rect x="418" y="297" width="1" height="1"/>
<rect x="419" y="296" width="1" height="1"/>
<rect x="420" y="295" width="1" height="1"/>
<rect x="421" y="294" width="1" height="1"/>
<rect x="422" y="293" width="2" height="1"/>
<rect x="424" y="291" width="1" height="2"/>
<rect x="425" y="290" width="1" height="1"/>
<rect x="426" y="289" width="1" height="1"/>
<rect x="427" y="288" width="1" height="1"/>
<rect x="428" y="286" width="1" height="2"/>
<rect x="429" y="285" width="1" height="1"/>
<rect x="430" y="284" width="1" height="1"/>
<rect x="431" y="283" width="1" height="1"/>
<rect x="432" y="281" width="1" height="2"/>
<rect x="433" y="280" width="1" height="1"/>
<rect x="434" y="279" width="1" height="1"/>
<rect x="435" y="278" width="1" height="1"/>
<rect x="436" y="277" width="1" height="1"/>
<rect x="437" y="276" width="1" height="1"/>
<rect x="438" y="275" width="2" height="1"/>
<rect x="440" y="274" width="1" height="1"/>
<rect x="441" y="273" width="1" height="1"/>
<rect x="442" y="272" width="2" height="1"/>
<rect x="444" y="270" width="1" height="2"/>
<rect x="445" y="269" width="1" height="1"/>
<rect x="446" y="267" width="1" height="2"/>
<rect x="447" y="266" width="1" height="1"/>
<rect x="448" y="264" width="1" height="2"/>
<rect x="449" y="263" width="1" height="1"/>
<rect x="450" y="261" width="1" height="2"/>
<rect x="451" y="260" width="1" height="1"/>
<rect x="452" y="259" width="1" height="1"/>
<rect x="453" y="257" width="1" height="2"/>
<rect x="454" y="255" width="1" height="2"/>
<rect x="455" y="254" width="1" height="1"/>
<rect x="456" y="252" width="1" height="2"/>
<rect x="457" y="250" width="1" height="2"/>
<rect x="458" y="249" width="1" height="1"/>
<rect x="459" y="247" width="1" height="2"/>
<rect x="460" y="245" width="1" height="2"/>
<rect x="461" y="243" width="1" height="2"/>
<rect x="462" y="241" width="1" height="2"/>
<rect x="463" y="239" width="1" height="2"/>
<rect x="464" y="237" width="1" height="2"/>
<rect x="465" y="235" width="1" height="2"/>
<rect x="466" y="233" width="1" height="2"/>
<rect x="467" y="231" width="1" height="2"/>
<rect x="468" y="229" width="1" height="2"/>
<rect x="469" y="227" width="1" height="2"/>
<rect x="470" y="225" width="1" height="2"/>
<rect x="471" y="223" width="1" height="2"/>
<rect x="472" y="221" width="1" height="2"/>
<rect x="473" y="220" width="1" height="1"/>
<rect x="474" y="219" width="1" height="1"/>
<rect x="475" y="216" width="1" height="3"/>
<rect x="476" y="211" width="1" height="5"/>
<rect x="477" y="209" width="1" height="3"/>
<rect x="478" y="204" width="1" height="5"/>
<rect x="479" y="203" width="1" height="2"/>
<rect x="480" y="201" width="1" height="2"/>
<rect x="481" y="199" width="1" height="2"/>
<rect x="482" y="198" width="1" height="1"/>
<rect x="483" y="195" width="1" height="3"/>
<rect x="484" y="191" width="1" height="4"/>
<rect x="485" y="187" width="1" height="4"/>
<rect x="486" y="184" width="1" height="3"/>
<rect x="487" y="182" width="1" height="2"/>
<rect x="488" y="181" width="1" height="1"/>
<rect x="489" y="180" width="1" height="1"/>
<rect x="490" y="179" width="1" height="1"/>
<rect x="491" y="178" width="1" height="1"/>
<rect x="492" y="176" width="1" height="2"/>
<rect x="493" y="174" width="1" height="2"/>
<rect x="494" y="173" width="1" height="1"/>
<rect x="495" y="171" width="1" height="2"/>
<rect x="496" y="169" width="1" height="2"/>
<rect x="497" y="168" width="1" height="1"/>
<rect x="498" y="166" width="1" height="2"/>
<rect x="499" y="165" width="1" height="1"/>
<rect x="500" y="163" width="1" height="2"/>
<rect x="501" y="161" width="1" height="2"/>
<rect x="502" y="159" width="1" height="2"/>
<rect x="503" y="158" width="1" height="1"/>
<rect x="504" y="157" width="1" height="1"/>
<rect x="505" y="156" width="1" height="1"/>
<rect x="506" y="155" width="1" height="1"/>
<rect x="507" y="154" width="1" height="1"/>
<rect x="508" y="153" width="1" height="1"/>
<rect x="509" y="152" width="1" height="1"/>
<rect x="510" y="151" width="1" height="1"/>
<rect x="511" y="149" width="1" height="2"/>
<rect x="512" y="147" width="1" height="2"/>
<rect x="513" y="145" width="1" height="2"/>
<rect x="514" y="144" width="1" height="1"/>
<rect x="515" y="142" width="1" height="2"/>
<rect x="516" y="140" width="1" height="2"/>
<rect x="517" y="139" width="1" height="1"/>
<rect x="518" y="138" width="1" height="1"/>
<rect x="519" y="137" width="2" height="1"/>
<rect x="521" y="136" width="2" height="1"/>
<rect x="523" y="135" width="1" height="1"/>
<rect x="524" y="134" width="2" height="1"/>
<rect x="526" y="133" width="2" height="1"/>
<rect x="528" y="132" width="2" height="1"/>
<rect x="530" y="131" width="2" height="1"/>
<rect x="532" y="130" width="2" height="1"/>
<rect x="534" y="129" width="2" height="1"/>
<rect x="536" y="128" width="2" height="1"/>
<rect x="538" y="127" width="2" height="1"/>
<rect x="540" y="126" width="2" height="1"/>
<rect x="542" y="125" width="1" height="1"/>
<rect x="543" y="124" width="2" height="1"/>
<rect x="545" y="123" width="1" height="1"/>
<rect x="546" y="122" width="2" height="1"/>
<rect x="548" y="121" width="4" height="1"/>
<rect x="552" y="120" width="4" height="1"/>
<rect x="556" y="119" width="4" height="1"/>
<rect x="560" y="118" width="1" height="1"/>
<rect x="561" y="117" width="1" height="1"/>
<rect x="562" y="116" width="1" height="1"/>
<rect x="563" y="115" width="1" height="1"/>
<rect x="564" y="114" width="1" height="1"/>
<rect x="565" y="113" width="1" height="1"/>
<rect x="566" y="112" width="2" height="1"/>
<rect x="568" y="111" width="1" height="1"/>
<rect x="569" y="110" width="1" height="1"/>
<rect x="570" y="109" width="1" height="1"/>
<rect x="571" y="108" width="2" height="1"/>
<rect x="573" y="107" width="2" height="1"/>
<rect x="575" y="106" width="5" height="1"/>
<rect x="580" y="107" width="2" height="1"/>
<rect x="582" y="108" width="1" height="1"/>
<rect x="583" y="109" width="1" height="1"/>
<rect x="584" y="110" width="1" height="1"/>
<rect x="585" y="111" width="1" height="1"/>
<rect x="586" y="112" width="1" height="1"/>
<rect x="587" y="113" width="1" height="1"/>
<rect x="588" y="114" width="1" height="1"/>
<rect x="589" y="115" width="1" height="1"/>
<rect x="590" y="116" width="1" height="1"/>
<rect x="591" y="117" width="1" height="1"/>
<rect x="592" y="118" width="1" height="1"/>
<rect x="593" y="119" width="1" height="1"/>
<rect x="594" y="120" width="1" height="1"/>
<rect x="595" y="121" width="1" height="1"/>
<rect x="596" y="122" width="1" height="1"/>
<rect x="597" y="123" width="1" height="1"/>
<rect x="598" y="124" width="1" height="1"/>
<rect x="599" y="125" width="1" height="1"/>
<rect x="600" y="126" width="1" height="1"/>
<rect x="601" y="127" width="1" height="1"/>
<rect x="602" y="128" width="1" height="2"/>
<rect x="603" y="130" width="1" height="1"/>
<rect x="604" y="131" width="1" height="1"/>
<rect x="605" y="132" width="1" height="2"/>
<rect x="606" y="134" width="1" height="1"/>
<rect x="607" y="135" width="1" height="2"/>
<rect x="608" y="137" width="1" height="1"/>
<rect x="609" y="138" width="1" height="2"/>
<rect x="610" y="140" width="1" height="2"/>
<rect x="611" y="142" width="1" height="2"/>
<rect x="612" y="144" width="1" height="2"/>
<rect x="613" y="146" width="1" height="1"/>
<rect x="614" y="147" width="1" height="1"/>
<rect x="615" y="148" width="1" height="1"/>
<rect x="616" y="149" width="1" height="1"/>
<rect x="617" y="150" width="1" height="1"/>
<rect x="618" y="151" width="3" height="1"/>
<rect x="621" y="152" width="14" height="1"/>
<rect x="635" y="153" width="2" height="1"/>
<rect x="637" y="154" width="4" height="1"/>
<rect x="641" y="155" width="3" height="1"/>
<rect x="644" y="156" width="9" height="1"/>
<rect x="653" y="157" width="2" height="1"/>
<rect x="655" y="158" width="1" height="1"/>
<rect x="656" y="159" width="1" height="1"/>
<rect x="657" y="160" width="2" height="1"/>
<rect x="659" y="161" width="2" height="1"/>
<rect x="661" y="162" width="2" height="1"/>
<rect x="663" y="163" width="2" height="1"/>
<rect x="665" y="164" width="2" height="1"/>
<rect x="667" y="165" width="2" height="1"/>
<rect x="669" y="166" width="2" height="1"/>
<rect x="671" y="167" width="1" height="1"/>
<rect x="672" y="168" width="1" height="1"/>
<rect x="673" y="169" width="2" height="1"/>
<rect x="675" y="170" width="1" height="1"/>
<rect x="676" y="171" width="1" height="1"/>
<rect x="677" y="172" width="2" height="1"/>
<rect x="679" y="173" width="1" height="1"/>
<rect x="680" y="174" width="1" height="1"/>
<rect x="681" y="175" width="2" height="1"/>
<rect x="683" y="176" width="1" height="1"/>
<rect x="684" y="177" width="1" height="1"/>
<rect x="685" y="178" width="2" height="1"/>
<rect x="687" y="179" width="2" height="1"/>
<rect x="689" y="180" width="1" height="1"/>
<rect x="690" y="181" width="2" height="1"/>
<rect x="692" y="182" width="1" height="1"/>
<rect x="693" y="183" width="2" height="1"/>
<rect x="695" y="184" width="1" height="1"/>
<rect x="696" y="185" width="2" height="1"/>
<rect x="698" y="186" width="1" height="1"/>
<rect x="699" y="187" width="2" height="1"/>
<rect x="701" y="188" width="2" height="1"/>
<rect x="703" y="187" width="3" height="1"/>
<rect x="706" y="186" width="8" height="1"/>
<rect x="714" y="187" width="2" height="1"/>
<rect x="716" y="188" width="2" height="1"/>
<rect x="718" y="189" width="2" height="1"/>
<rect x="720" y="190" width="2" height="1"/>
<rect x="722" y="191" width="2" height="1"/>
<rect x="724" y="192" width="2" height="1"/>
<rect x="726" y="193" width="4" height="1"/>
<rect x="730" y="194" width="6" height="1"/>
<rect x="736" y="195" width="2" height="1"/>
<rect x="738" y="196" width="2" height="1"/>
<rect x="740" y="197" width="1" height="1"/>
<rect x="741" y="198" width="2" height="1"/>
<rect x="743" y="199" width="1" height="1"/>
<rect x="744" y="200" width="2" height="1"/>
<rect x="746" y="201" width="2" height="1"/>
<rect x="748" y="202" width="2" height="1"/>
<rect x="750" y="203" width="1" height="1"/>
<rect x="751" y="204" width="2" height="1"/>
<rect x="753" y="205" width="1" height="1"/>
<rect x="754" y="206" width="2" height="1"/>
<rect x="756" y="207" width="2" height="1"/>
<rect x="758" y="208" width="1" height="1"/>
<rect x="759" y="209" width="2" height="1"/>
<rect x="761" y="210" width="6" height="1"/>
<rect x="767" y="209" width="2" height="1"/>
<rect x="769" y="208" width="1" height="1"/>
<rect x="770" y="207" width="2" height="1"/>
<rect x="772" y="206" width="2" height="1"/>
<rect x="774" y="205" width="2" height="1"/>
<rect x="776" y="204" width="2" height="1"/>
<rect x="778" y="203" width="2" height="1"/>
<rect x="780" y="202" width="1" height="1"/>
</g>
<g fill="#0000ff" shape-rendering="crispEdges">
<rect x="279" y="130" width="3" height="1"/>
<rect x="282" y="131" width="2" height="1"/>
<rect x="284" y="132" width="2" height="1"/>
<rect x="286" y="133" width="2" height="1"/>
<rect x="288" y="134" width="3" height="1"/>
<rect x="291" y="135" width="3" height="1"/>
<rect x="294" y="136" width="3" height="1"/>
<rect x="297" y="137" width="3" height="1"/>
<rect x="300" y="138" width="4" height="1"/>
<rect x="304" y="139" width="4" height="1"/>
<rect x="308" y="140" width="2" height="1"/>
<rect x="310" y="141" width="2" height="1"/>
<rect x="312" y="142" width="2" height="1"/>
<rect x="314" y="143" width="2" height="1"/>
<rect x="316" y="144" width="2" height="1"/>
<rect x="318" y="145" width="3" height="1"/>
<rect x="321" y="146" width="3" height="1"/>
<rect x="324" y="147" width="3" height="1"/>
<rect x="327" y="148" width="3" height="1"/>
<rect x="330" y="149" width="2" height="1"/>
<rect x="332" y="150" width="1" height="1"/>
<rect x="333" y="151" width="2" height="1"/>
<rect x="335" y="152" width="1" height="1"/>
<rect x="336" y="153" width="2" height="1"/>
<rect x="338" y="154" width="1" height="1"/>
<rect x="339" y="155" width="1" height="1"/>
<rect x="340" y="156" width="2" height="1"/>
<rect x="342" y="157" width="1" height="1"/>
<rect x="343" y="158" width="1" height="1"/>
<rect x="344" y="159" width="2" height="1"/>
<rect x="346" y="160" width="2" height="1"/>
<rect x="348" y="161" width="2" height="1"/>
<rect x="350" y="162" width="2" height="1"/>
<rect x="352" y="163" width="2" height="1"/>
<rect x="354" y="164" width="1" height="1"/>
<rect x="355" y="165" width="1" height="1"/>
<rect x="356" y="166" width="2" height="1"/>
<rect x="358" y="167" width="1" height="1"/>
<rect x="359" y="168" width="1" height="1"/>
<rect x="360" y="169" width="2" height="1"/>
<rect x="362" y="170" width="1" height="1"/>
<rect x="363" y="171" width="1" height="1"/>
<rect x="364" y="172" width="1" height="1"/>
<rect x="365" y="173" width="1" height="1"/>
<rect x="366" y="174" width="1" height="1"/>
<rect x="367" y="175" width="1" height="1"/>
<rect x="368" y="176" width="1" height="1"/>
<rect x="369" y="177" width="1" height="1"/>
<rect x="370" y="178" width="1" height="1"/>
<rect x="371" y="179" width="1" height="1"/>
<rect x="372" y="180" width="1" height="1"/>
<rect x="373" y="181" width="1" height="1"/>
<rect x="374" y="182" width="1" height="1"/>
<rect x="375" y="183" width="1" height="1"/>
<rect x="376" y="184" width="1" height="1"/>
<rect x="377" y="185" width="1" height="1"/>
<rect x="378" y="186" width="1" height="1"/>
<rect x="379" y="187" width="1" height="1"/>
<rect x="380" y="188" width="1" height="1"/>
<rect x="381" y="189" width="1" height="1"/>
<rect x="382" y="190" width="1" height="1"/>
<rect x="383" y="191" width="1" height="1"/>
<rect x="384" y="192" width="1" height="1"/>
<rect x="385" y="193" width="1" height="1"/>
<rect x="386" y="194" width="1" height="1"/>
<rect x="387" y="195" width="1" height="2"/>
<rect x="388" y="197" width="1" height="1"/>
<rect x="389" y="198" width="1" height="2"/>
<rect x="390" y="200" width="1" height="1"/>
<rect x="391" y="201" width="1" height="1"/>
<rect x="392" y="202" width="1" height="1"/>
<rect x="393" y="203" width="2" height="1"/>
<rect x="395" y="204" width="2" height="1"/>
<rect x="397" y="205" width="2" height="1"/>
<rect x="399" y="206" width="2" height="1"/>
<rect x="401" y="207" width="1" height="1"/>
<rect x="402" y="208" width="2" height="1"/>
<rect x="404" y="209" width="2" height="1"/>
<rect x="406" y="210" width="2" height="1"/>
<rect x="408" y="211" width="2" height="1"/>
<rect x="410" y="212" width="2" height="1"/>
<rect x="412" y="213" width="2" height="1"/>
<rect x="414" y="214" width="2" height="1"/>
<rect x="416" y="215" width="2" height="1"/>
<rect x="418" y="216" width="3" height="1"/>
<rect x="421" y="217" width="2" height="1"/>
<rect x="423" y="218" width="2" height="1"/>
<rect x="425" y="219" width="2" height="1"/>
<rect x="427" y="220" width="3" height="1"/>
<rect x="430" y="221" width="2" height="1"/>
<rect x="432" y="222" width="2" height="1"/>
<rect x="434" y="223" width="3" height="1"/>
<rect x="437" y="224" width="6" height="1"/>
<rect x="443" y="225" width="5" height="1"/>
<rect x="448" y="226" width="2" height="1"/>
<rect x="450" y="227" width="2" height="1"/>
<rect x="452" y="228" width="2" height="1"/>
<rect x="454" y="229" width="2" height="1"/>
<rect x="456" y="230" width="3" height="1"/>
<rect x="459" y="231" width="2" height="1"/>
<rect x="461" y="232" width="3" height="1"/>
<rect x="464" y="233" width="3" height="1"/>
<rect x="467" y="234" width="2" height="1"/>
<rect x="469" y="235" width="2" height="1"/>
<rect x="471" y="236" width="2" height="1"/>
<rect x="473" y="237" width="13" height="1"/>
<rect x="486" y="236" width="4" height="1"/>
<rect x="490" y="235" width="3" height="1"/>
<rect x="493" y="234" width="3" height="1"/>
<rect x="496" y="233" width="3" height="1"/>
<rect x="499" y="232" width="3" height="1"/>
<rect x="502" y="231" width="4" height="1"/>
<rect x="506" y="230" width="5" height="1"/>
<rect x="511" y="229" width="2" height="1"/>
<rect x="513" y="228" width="2" height="1"/>
<rect x="515" y="227" width="2" height="1"/>
<rect x="517" y="226" width="3" height="1"/>
<rect x="520" y="225" width="5" height="1"/>
<rect x="525" y="224" width="5" height="1"/>
<rect x="530" y="223" width="6" height="1"/>
<rect x="536" y="222" width="5" height="1"/>
<rect x="541" y="221" width="5" height="1"/>
<rect x="546" y="220" width="4" height="1"/>
<rect x="550" y="219" width="4" height="1"/>
<rect x="554" y="218" width="3" height="1"/>
<rect x="557" y="217" width="2" height="1"/>
<rect x="559" y="216" width="2" height="1"/>
<rect x="561" y="215" width="2" height="1"/>
<rect x="563" y="214" width="2" height="1"/>
<rect x="565" y="213" width="1" height="1"/>
<rect x="566" y="212" width="1" height="1"/>
<rect x="567" y="211" width="1" height="1"/>
<rect x="568" y="210" width="1" height="1"/>
<rect x="569" y="209" width="1" height="1"/>
<rect x="570" y="208" width="2" height="1"/>
<rect x="572" y="207" width="2" height="1"/>
<rect x="574" y="206" width="2" height="1"/>
<rect x="576" y="205" width="2" height="1"/>
<rect x="578" y="204" width="5" height="1"/>
<rect x="583" y="203" width="2" height="1"/>
<rect x="585" y="202" width="2" height="1"/>
<rect x="587" y="201" width="3" height="1"/>
<rect x="590" y="200" width="2" height="1"/>
<rect x="592" y="199" width="2" height="1"/>
<rect x="594" y="198" width="3" height="1"/>
<rect x="597" y="197" width="2" height="1"/>
<rect x="599" y="196" width="2" height="1"/>
<rect x="601" y="195" width="3" height="1"/>
<rect x="604" y="194" width="3" height="1"/>
<rect x="607" y="193" width="3" height="1"/>
<rect x="610" y="192" width="4" height="1"/>
<rect x="614" y="191" width="3" height="1"/>
<rect x="617" y="190" width="3" height="1"/>
<rect x="620" y="189" width="4" height="1"/>
<rect x="624" y="188" width="3" height="1"/>
<rect x="627" y="187" width="2" height="1"/>
<rect x="629" y="186" width="2" height="1"/>
<rect x="631" y="185" width="1" height="1"/>
<rect x="632" y="184" width="2" height="1"/>
<rect x="634" y="183" width="1" height="1"/>
<rect x="635" y="182" width="2" height="1"/>
<rect x="637" y="181" width="2" height="1"/>
<rect x="639" y="180" width="2" height="1"/>
<rect x="641" y="179" width="2" height="1"/>
<rect x="643" y="178" width="3" height="1"/>
<rect x="646" y="177" width="1" height="1"/>
<rect x="647" y="176" width="1" height="1"/>
<rect x="648" y="175" width="2" height="1"/>
<rect x="650" y="174" width="1" height="1"/>
<rect x="651" y="173" width="2" height="1"/>
<rect x="653" y="172" width="1" height="1"/>
<rect x="654" y="171" width="2" height="1"/>
<rect x="656" y="170" width="1" height="1"/>
<rect x="657" y="169" width="2" height="1"/>
<rect x="659" y="168" width="2" height="1"/>
<rect x="661" y="167" width="1" height="1"/>
<rect x="662" y="166" width="1" height="1"/>
<rect x="663" y="165" width="1" height="1"/>
<rect x="664" y="164" width="1" height="1"/>
<rect x="665" y="163" width="2" height="1"/>
<rect x="667" y="162" width="1" height="1"/>
<rect x="668" y="161" width="1" height="1"/>
<rect x="669" y="160" width="1" height="1"/>
<rect x="670" y="159" width="1" height="1"/>
<rect x="671" y="158" width="2" height="1"/>
<rect x="673" y="157" width="1" height="1"/>
<rect x="674" y="156" width="2" height="1"/>
<rect x="676" y="155" width="6" height="1"/>
<rect x="682" y="156" width="18" height="1"/>
<rect x="700" y="157" width="43" height="1"/>
<rect x="743" y="158" width="9" height="1"/>
<rect x="752" y="159" width="2" height="1"/>
<rect x="754" y="160" width="11" height="1"/>
<rect x="765" y="161" width="2" height="1"/>
<rect x="767" y="162" width="2" height="1"/>
<rect x="769" y="163" width="3" height="1"/>
<rect x="772" y="164" width="2" height="1"/>
<rect x="774" y="165" width="3" height="1"/>
<rect x="777" y="166" width="2" height="1"/>
<rect x="779" y="167" width="2" height="1"/>
</g>
<text x="4.60" y="14" textLength="46.46" lengthAdjust="spacingAndGlyphs">Historic</text>
<text x="55.16" y="14" textLength="28.63" lengthAdjust="spacingAndGlyphs">Chart</text>
<text x="89.00" y="14" textLength="16.34" lengthAdjust="spacingAndGlyphs">for</text>
<text x="109.65" y="14" textLength="40.71" lengthAdjust="spacingAndGlyphs">US:KN</text>
<text x="154.07" y="14" textLength="13.74" lengthAdjust="spacingAndGlyphs">by</text>
<text x="173.02" y="14" textLength="99.49" lengthAdjust="spacingAndGlyphs">Stockwatch.com</text>
<text x="277.10" y="14" textLength="77.08" lengthAdjust="spacingAndGlyphs">604.687.1500</text>
<text x="358.47" y="14" textLength="5.29" lengthAdjust="spacingAndGlyphs">-</text>
<text x="367.13" y="14" textLength="14.15" lengthAdjust="spacingAndGlyphs">(c)</text>
<text x="385.10" y="14" textLength="28.04" lengthAdjust="spacingAndGlyphs">2024</text>
<text x="5.60" y="28" textLength="26.92" lengthAdjust="spacingAndGlyphs">Wed</text>
<text x="37.12" y="28" textLength="23.40" lengthAdjust="spacingAndGlyphs">May</text>
<text x="72.33" y="28" textLength="5.20" lengthAdjust="spacingAndGlyphs">1</text>
<text x="82.10" y="28" textLength="28.04" lengthAdjust="spacingAndGlyphs">2024</text>
<text x="119.65" y="28" textLength="58.80" lengthAdjust="spacingAndGlyphs">Op=15.80</text>
<text x="186.69" y="28" textLength="58.51" lengthAdjust="spacingAndGlyphs">Hi=16.135</text>
<text x="256.08" y="28" textLength="54.26" lengthAdjust="spacingAndGlyphs">Lo=15.76</text>
<text x="320.09" y="28" textLength="51.31" lengthAdjust="spacingAndGlyphs">Cl=15.80</text>
<text x="383.00" y="28" textLength="72.23" lengthAdjust="spacingAndGlyphs">Vol=573,463</text>
<text x="465.07" y="28" textLength="26.20" lengthAdjust="spacingAndGlyphs">Year</text>
<text x="497.09" y="28" textLength="49.00" lengthAdjust="spacingAndGlyphs">hi=18.48</text>
<text x="556.48" y="28" textLength="50.03" lengthAdjust="spacingAndGlyphs">lo=12.78</text>
<text x="8.45" y="46" textLength="40.60" lengthAdjust="spacingAndGlyphs">US:KN</text>
<text x="8.90" y="418" textLength="45.28" lengthAdjust="spacingAndGlyphs">Volume</text>
<text x="787.35" y="53" textLength="31.39" lengthAdjust="spacingAndGlyphs">18.30</text>
<text x="787.35" y="72" textLength="31.39" lengthAdjust="spacingAndGlyphs">18.00</text>
<text x="787.35" y="90" textLength="31.39" lengthAdjust="spacingAndGlyphs">17.70</text>
<text x="787.35" y="109" textLength="31.39" lengthAdjust="spacingAndGlyphs">17.40</text>
<text x="787.35" y="127" textLength="31.39" lengthAdjust="spacingAndGlyphs">17.10</text>
<text x="787.35" y="146" textLength="31.39" lengthAdjust="spacingAndGlyphs">16.80</text>
<text x="787.35" y="164" textLength="31.39" lengthAdjust="spacingAndGlyphs">16.50</text>
<text x="787.35" y="183" textLength="31.39" lengthAdjust="spacingAndGlyphs">16.20</text>
<text x="787.35" y="201" textLength="31.39" lengthAdjust="spacingAndGlyphs">15.90</text>
<text x="787.35" y="220" textLength="31.39" lengthAdjust="spacingAndGlyphs">15.60</text>
<text x="787.35" y="238" textLength="31.39" lengthAdjust="spacingAndGlyphs">15.30</text>
<text x="787.35" y="257" textLength="31.39" lengthAdjust="spacingAndGlyphs">15.00</text>
<text x="787.35" y="275" textLength="31.39" lengthAdjust="spacingAndGlyphs">14.70</text>
<text x="787.35" y="294" textLength="31.39" lengthAdjust="spacingAndGlyphs">14.40</text>
<text x="787.35" y="312" textLength="31.39" lengthAdjust="spacingAndGlyphs">14.10</text>
<text x="787.35" y="331" textLength="31.39" lengthAdjust="spacingAndGlyphs">13.80</text>
<text x="787.35" y="349" textLength="31.39" lengthAdjust="spacingAndGlyphs">13.50</text>
<text x="787.35" y="368" textLength="31.39" lengthAdjust="spacingAndGlyphs">13.20</text>
<text x="787.35" y="386" textLength="31.39" lengthAdjust="spacingAndGlyphs">12.90</text>
<text x="786.08" y="433" textLength="17.95" lengthAdjust="spacingAndGlyphs">2.2</text>
<text x="808.53" y="433" textLength="11.32" lengthAdjust="spacingAndGlyphs">M</text>
<text x="787.45" y="459" textLength="16.55" lengthAdjust="spacingAndGlyphs">1.5</text>
<text x="808.53" y="459" textLength="11.32" lengthAdjust="spacingAndGlyphs">M</text>
<text x="787.11" y="485" textLength="20.70" lengthAdjust="spacingAndGlyphs">750</text>
<text x="812.73" y="485" textLength="5.37" lengthAdjust="spacingAndGlyphs">k</text>
<text x="20.68" y="523" textLength="24.21" lengthAdjust="spacingAndGlyphs">May</text>
<text x="87.40" y="523" textLength="20.73" lengthAdjust="spacingAndGlyphs">Jun</text>
<text x="153.60" y="523" textLength="16.85" lengthAdjust="spacingAndGlyphs">Jul</text>
<text x="217.00" y="523" textLength="24.30" lengthAdjust="spacingAndGlyphs">Aug</text>
<text x="280.61" y="523" textLength="24.71" lengthAdjust="spacingAndGlyphs">Sep</text>
<text x="346.05" y="523" textLength="20.74" lengthAdjust="spacingAndGlyphs">Oct</text>
<text x="411.43" y="523" textLength="24.08" lengthAdjust="spacingAndGlyphs">Nov</text>
<text x="475.62" y="523" textLength="24.28" lengthAdjust="spacingAndGlyphs">Dec</text>
<text x="543.60" y="523" textLength="19.91" lengthAdjust="spacingAndGlyphs">Jan</text>
<text x="607.09" y="523" textLength="22.03" lengthAdjust="spacingAndGlyphs">Feb</text>
<text x="669.67" y="523" textLength="22.45" lengthAdjust="spacingAndGlyphs">Mar</text>
<text x="737.00" y="523" textLength="20.41" lengthAdjust="spacingAndGlyphs">Apr</text>
<text x="244.10" y="540" textLength="28.04" lengthAdjust="spacingAndGlyphs">2023</text>
<text x="635.10" y="540" textLength="28.04" lengthAdjust="spacingAndGlyphs">2024</text>
</svg></body></html>
